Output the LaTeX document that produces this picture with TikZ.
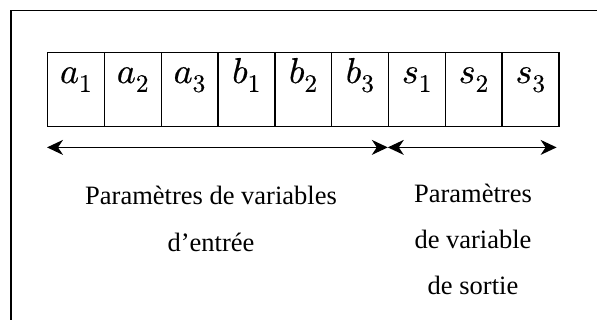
\documentclass[tikz,border=0pt]{standalone}
\usepackage{fontspec}
\usepackage{unicode-math}
\setmainfont{Liberation Serif}
\setmathfont{Latin Modern Math}[FakeBold=0.5]
\usetikzlibrary{arrows.meta}
\begin{document}
\begin{tikzpicture}[x=1pt,y=-1pt,
  cell/.style={draw, line width=1.4pt, minimum width=56.8pt, minimum height=74pt,
               inner sep=0pt, anchor=north west},
  sym/.style={anchor=base, font=\fontsize{36}{40}\selectfont, inner sep=0pt},
  span/.style={line width=1.3pt, {Stealth[length=16pt,width=15pt,inset=5pt]}-{Stealth[length=16pt,width=15pt,inset=5pt]}},
  caption/.style={font=\fontsize{26.5}{30}\selectfont, inner sep=0pt, anchor=base}]
  \useasboundingbox (0,0) rectangle (597,320);
  % outer frame, running past the page on the right and bottom
  \begin{scope}
    \clip (0,0) rectangle (597,320);
    \draw[line width=1.8pt] (11,330) -- (11,10.5) -- (610,10.5);
  \end{scope}
  % row of parameter cells
  \foreach \n/\lab [count=\i from 0] in {c1/a_1,c2/a_2,c3/a_3,c4/b_1,c5/b_2,c6/b_3,c7/s_1,c8/s_2,c9/s_3}{
    \node[cell] (\n) at (47+56.8*\i,52) {};
    \node[sym] (\n t) at ([yshift=-31pt]\n.north) {$\lab$};
  }
  % spans below the row
  \coordinate (l1) at ([yshift=-20pt]c1.south west);
  \coordinate (l2) at ([yshift=-20pt]c7.south west);
  \coordinate (l3) at ([yshift=-20pt,xshift=-3pt]c9.south east);
  \draw[span] (l1) -- (l2);
  \draw[span] (l2) -- (l3);
  % captions, one node per line
  \node[caption] (in1) at (211,205) {Paramètres de variables};
  \node[caption] (in2) at (211,252) {d’entrée};
  \node[caption] (out1) at (473,203) {Paramètres};
  \node[caption] (out2) at (473,249) {de variable};
  \node[caption] (out3) at (473,295) {de sortie};
\end{tikzpicture}
\end{document}
